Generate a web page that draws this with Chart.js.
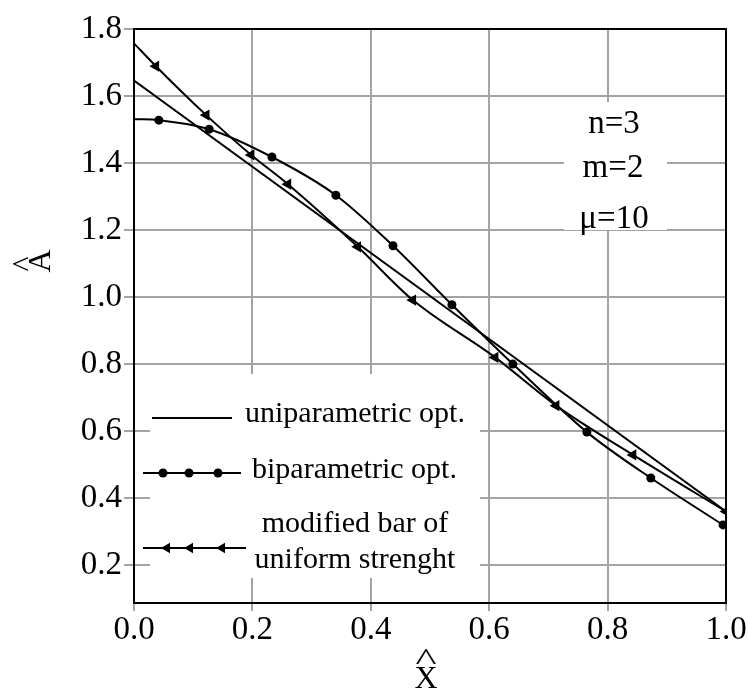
<!DOCTYPE html>
<html><head><meta charset="utf-8">
<script src="https://cdn.jsdelivr.net/npm/chart.js@4.4.1/dist/chart.umd.min.js"></script>
<style>html,body{margin:0;padding:0;background:#fff;}#wrap{width:748px;height:690px;}</style>
</head><body><div id="wrap"><canvas id="c" width="748" height="690"></canvas></div>
<script>
// ---- data ----
const xTicks = [0.0, 0.2, 0.4, 0.6, 0.8, 1.0];
const yTicks = [0.2, 0.4, 0.6, 0.8, 1.0, 1.2, 1.4, 1.6, 1.8];

const uniX = [0.0, 1.0];
const uniY = [1.646, 0.360];

const biX = [0.0, 0.042, 0.127, 0.233, 0.341, 0.4375, 0.537, 0.640, 0.765, 0.873, 0.995];
const biY = [1.531, 1.528, 1.501, 1.418, 1.304, 1.153, 0.977, 0.800, 0.597, 0.460, 0.320];

const triX = [0.0, 0.037, 0.122, 0.198, 0.260, 0.378, 0.471, 0.610, 0.713, 0.843, 1.0];
const triY = [1.757, 1.689, 1.543, 1.424, 1.337, 1.150, 0.991, 0.820, 0.676, 0.529, 0.360];

const seriesNames = ['uniparametric opt.', 'biparametric opt.', 'modified bar of', 'uniform strenght'];
const paramLines = ['n=3', 'm=2', '\u03bc=10'];

const SERIF = '"Liberation Serif", "DejaVu Serif", serif';
const GRID = '#a4a4a4';

const toPts = (xs, ys) => xs.map((x, i) => ({x: x, y: ys[i]}));

const overlay = {
  id: 'overlay',
  beforeDatasetsDraw(chart) {
    const ctx = chart.ctx, a = chart.chartArea;
    ctx.save();
    ctx.fillStyle = '#fff';
    ctx.fillRect(150, 374, 330, 204);   // legend background
    ctx.fillRect(564, 102, 103, 128);   // parameter text background
    ctx.strokeStyle = '#000';
    ctx.lineWidth = 2;
    ctx.beginPath();
    ctx.moveTo(a.left, a.top); ctx.lineTo(a.right, a.top); ctx.lineTo(a.right, a.bottom);
    ctx.stroke();
    ctx.restore();
  },
  afterDatasetsDraw(chart) {
    const ctx = chart.ctx;
    const dp = Chart.helpers.drawPoint;
    ctx.save();
    ctx.fillStyle = '#000'; ctx.strokeStyle = '#000';
    ctx.lineWidth = 2;
    // legend samples
    ctx.beginPath(); ctx.moveTo(152, 418); ctx.lineTo(232, 418); ctx.stroke();
    ctx.beginPath(); ctx.moveTo(143, 473); ctx.lineTo(241, 473); ctx.stroke();
    [163, 189, 218].forEach(x => dp(ctx, {pointStyle: 'circle', radius: 4.5, rotation: 0}, x, 473));
    ctx.beginPath(); ctx.moveTo(143, 548); ctx.lineTo(246, 548); ctx.stroke();
    [167, 190, 222].forEach(x => dp(ctx, {pointStyle: 'triangle', radius: 6, rotation: 270}, x, 548));
    // legend text
    ctx.font = '30px ' + SERIF;
    ctx.textBaseline = 'alphabetic';
    ctx.textAlign = 'left';
    ctx.fillText(seriesNames[0], 245, 422);
    ctx.fillText(seriesNames[1], 252, 478);
    ctx.textAlign = 'center';
    ctx.fillText(seriesNames[2], 355, 532);
    ctx.fillText(seriesNames[3], 355, 568);
    // parameters
    ctx.font = '33px ' + SERIF;
    ctx.fillText(paramLines[0], 614, 133);
    ctx.fillText(paramLines[1], 613, 177);
    ctx.fillText(paramLines[2], 614, 228);
    // x axis title: X with hat
    ctx.font = '32px ' + SERIF;
    ctx.fillText('X', 426, 688);
    ctx.save();
    ctx.translate(426, 670);
    ctx.scale(1.4, 1);
    ctx.fillText('^', 0, 0);
    ctx.restore();
    // y axis title: A with hat, rotated
    ctx.save();
    ctx.translate(50, 261);
    ctx.rotate(-Math.PI / 2);
    ctx.font = '32px ' + SERIF;
    ctx.fillText('A', 0, 0);
    ctx.fillText('^', -3, -16);
    ctx.restore();
    ctx.restore();
  }
};

new Chart(document.getElementById('c'), {
  type: 'line',
  data: {
    datasets: [
      {label: seriesNames[0], data: toPts(uniX, uniY), borderColor: '#000', borderWidth: 2,
       pointRadius: 0, tension: 0},
      {label: seriesNames[1], data: toPts(biX, biY), borderColor: '#000', borderWidth: 2,
       pointRadius: biX.map((x, i) => i === 0 ? 0 : 4.5), pointBackgroundColor: '#000', pointBorderColor: '#000',
       pointBorderWidth: 0, cubicInterpolationMode: 'monotone'},
      {label: seriesNames[2] + ' ' + seriesNames[3], data: toPts(triX, triY), borderColor: '#000', borderWidth: 2,
       pointStyle: 'triangle', rotation: 270, pointRadius: triX.map((x, i) => i === 0 ? 0 : 6.5),
       pointBackgroundColor: '#000', pointBorderColor: '#000', pointBorderWidth: 0, cubicInterpolationMode: 'monotone'}
    ]
  },
  options: {
    responsive: false,
    animation: false,
    devicePixelRatio: 1,
    layout: {padding: {left: 0, right: 22, top: 29, bottom: 0}},
    plugins: {legend: {display: false}, tooltip: {enabled: false}},
    scales: {
      x: {
        type: 'linear', min: 0, max: 1,
        afterBuildTicks: s => { s.ticks = xTicks.map(v => ({value: v})); },
        afterFit: s => { s.height = 87; },
        ticks: {font: {family: SERIF, size: 33}, color: '#000', padding: 0,
                callback: v => Number(v).toFixed(1), maxRotation: 0},
        grid: {color: GRID, lineWidth: 2, tickLength: 8},
        border: {color: '#000', width: 2}
      },
      y: {
        type: 'linear', min: 0.087, max: 1.8,
        afterBuildTicks: s => { s.ticks = yTicks.map(v => ({value: v})); },
        afterFit: s => { s.width = 134; },
        ticks: {font: {family: SERIF, size: 33}, color: '#000', padding: 2,
                callback: v => Number(v).toFixed(1)},
        grid: {color: GRID, lineWidth: 2, tickLength: 10},
        border: {color: '#000', width: 2}
      }
    }
  },
  plugins: [overlay]
});
</script></body></html>
